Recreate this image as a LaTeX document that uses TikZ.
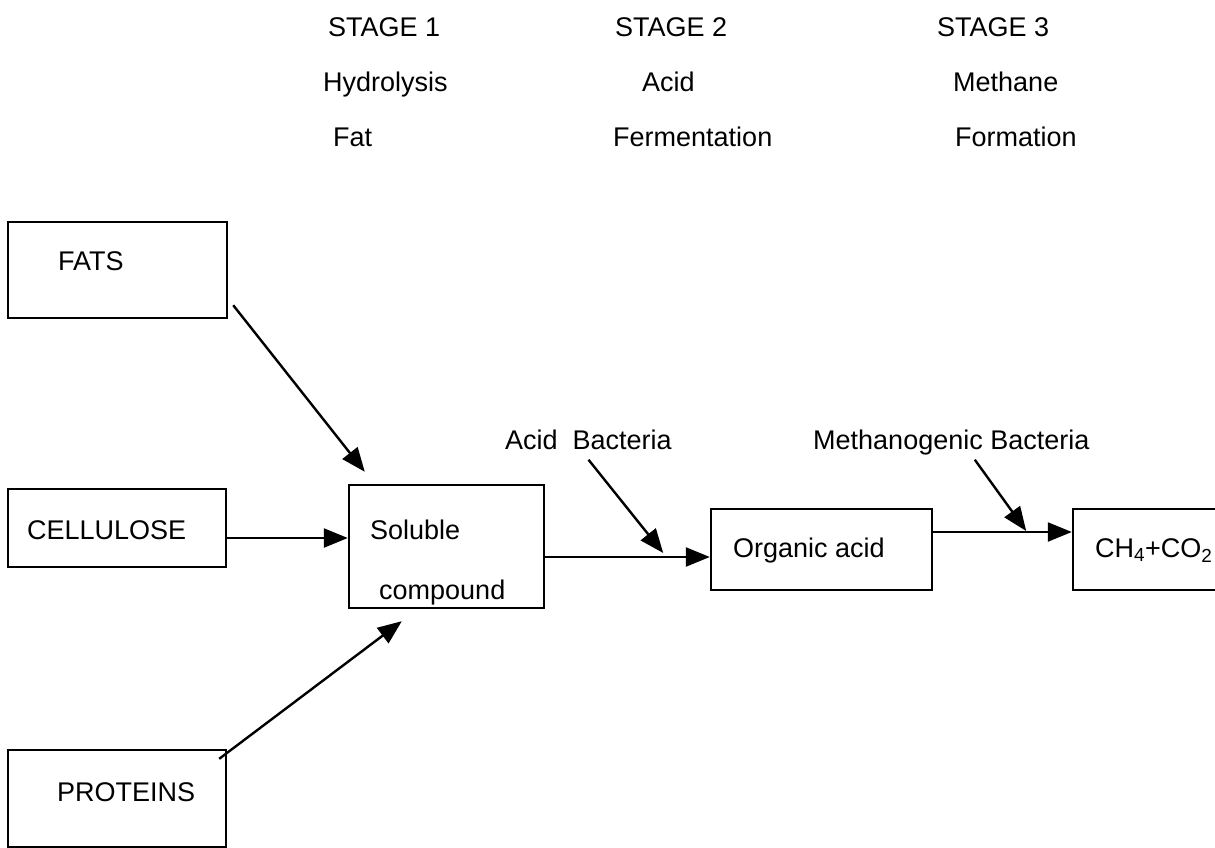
\documentclass[tikz,border=0pt]{standalone}
\usepackage{fontspec}
\setmainfont{Liberation Sans}
\usepackage{tikz}
\usetikzlibrary{arrows,arrows.meta,calc}
\tikzstyle{box}=[draw,line width=2.4pt,inner sep=0pt]
\tikzstyle{txt}=[inner sep=0pt,anchor=west,text height=19pt,text depth=0pt,font=\fontsize{27}{32}\selectfont]
\tikzstyle{edge} = [draw,line width=2.4pt,-{Triangle[length=24pt,width=19pt]}]

\begin{document}
\begin{tikzpicture}[x=1pt,y=-1pt]
    \useasboundingbox (0,0) rectangle (1215,848);

    % stage headings
    \foreach \pos/\name/\text in {{(328,27)/st1/STAGE 1},{(323,82)/hyd/Hydrolysis},{(333,137)/fat/Fat},
        {(615,27)/st2/STAGE 2},{(642,82)/acid/Acid},{(613,137)/ferm/Fermentation},
        {(937,27)/st3/STAGE 3},{(953,82)/meth/Methane},{(955,137)/form/Formation}}
        \node[txt] (\name) at \pos {\text};

    % boxes
    \node[box,minimum width=219pt,minimum height=96pt] (fats) at (117.5,270) {};
    \node[box,minimum width=218pt,minimum height=78pt] (cellulose) at (117,528) {};
    \node[box,minimum width=218pt,minimum height=97pt] (proteins) at (117,798.5) {};
    \node[box,minimum width=195pt,minimum height=123pt] (soluble) at (446.5,546.5) {};
    \node[box,minimum width=221pt,minimum height=81pt] (organic) at (821.5,549.5) {};
    \node[box,minimum width=167pt,minimum height=81pt] (ch4) at (1156.5,549.5) {};

    % box texts
    \node[txt] (fatstxt) at (58,261) {FATS};
    \node[txt] (celltxt) at (27,530) {CELLULOSE};
    \node[txt] (prottxt) at (57,792) {PROTEINS};
    \node[txt] (soltxt) at (370,530) {Soluble};
    \node[txt] (comptxt) at (379,590) {compound};
    \node[txt] (orgtxt) at (733,548) {Organic acid};
    \node[txt] (ch4txt) at (1095,548) {CH\textsubscript{4}+CO\textsubscript{2}};

    % bacteria
    \node[txt] (acidbac) at (505,440) {Acid\ \ Bacteria};
    \node[txt] (methbac) at (813,440) {Methanogenic Bacteria};

    % arrows into soluble compound
    \coordinate (ca) at ([yshift=-10pt]cellulose.east);
    \path[edge] ([xshift=5pt,yshift=14pt]fats.south east) -- ([xshift=17pt,yshift=12pt]soluble.north west);
    \path[edge] (ca) -- (ca -| soluble.west);
    \path[edge] ([xshift=-8pt,yshift=-10pt]proteins.north east) -- ([xshift=54pt,yshift=-12pt]soluble.south west);

    % main line
    \coordinate (sa) at ([yshift=-10.5pt]soluble.east);
    \coordinate (oa) at ([yshift=17.5pt]organic.east);
    \path[edge] (sa) -- (sa -| organic.west);
    \path[edge] (oa) -- (oa -| ch4.west);

    \coordinate (acidtip) at ([xshift=118pt,yshift=4pt]sa);
    \coordinate (methtip) at ([xshift=93pt,yshift=1pt]oa);
    \path[edge] ([yshift=-10pt]acidbac.south) -- (acidtip);
    \path[edge] ([xshift=23.5pt,yshift=-10pt]methbac.south) -- (methtip);

\end{tikzpicture}
\end{document}
